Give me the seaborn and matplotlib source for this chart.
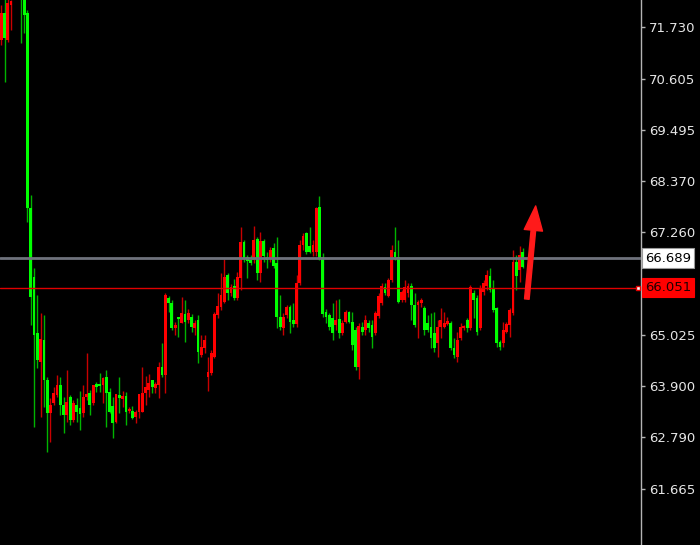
import matplotlib
matplotlib.use("Agg")
import matplotlib.pyplot as plt
import numpy as np
import pandas as pd
import seaborn as sns

# OHLC prices, oldest first (160 bars)
opens = [
    71.45, 72.03, 71.45, 72.21, 72.50, 72.80, 72.70, 72.45, 72.03, 67.79,
    66.28, 65.06, 64.43, 64.91, 64.04, 63.32, 63.54, 63.71, 63.93, 63.49,
    63.28, 63.67, 63.17, 63.49, 63.43, 63.32, 63.67, 63.76, 63.54, 63.95,
    63.93, 63.93, 64.10, 63.78, 63.47, 63.12, 63.71, 63.62, 63.69, 63.36,
    63.36, 63.23, 63.34, 63.34, 63.76, 63.82, 64.04, 63.86, 63.93, 64.32,
    64.15, 65.82, 65.72, 65.17, 65.39, 65.28, 65.48, 65.35, 65.41, 65.17,
    65.35, 64.58, 64.74, 64.10, 64.19, 64.54, 65.45, 65.63, 65.74, 66.33,
    65.93, 66.09, 65.82, 66.26, 67.04, 66.72, 66.65, 66.65, 67.11, 66.37,
    67.07, 66.72, 66.70, 66.91, 66.59, 65.41, 65.17, 65.45, 65.63, 65.35,
    65.26, 66.15, 66.98, 67.24, 66.96, 66.83, 66.83, 67.81, 66.72, 65.52,
    65.45, 65.39, 65.24, 65.37, 65.06, 65.30, 65.52, 65.30, 65.13, 64.32,
    65.19, 65.13, 65.28, 65.24, 65.06, 65.43, 65.72, 66.07, 65.87, 66.22,
    66.83, 66.72, 65.78, 65.78, 65.93, 66.09, 65.67, 65.67, 65.72, 65.61,
    65.28, 65.19, 65.06, 64.85, 65.19, 65.19, 65.26, 65.28, 64.74, 64.54,
    64.96, 65.17, 65.35, 65.17, 65.93, 65.82, 65.17, 65.96, 66.09, 66.30,
    66.04, 65.61, 64.87, 64.85, 65.08, 65.24, 65.50, 66.61, 66.43, 66.83,
]
highs = [
    72.21, 72.40, 72.36, 72.32, 72.90, 73.00, 72.90, 72.60, 72.10, 68.07,
    66.48, 65.89, 65.50, 65.46, 64.10, 63.65, 63.89, 64.15, 64.10, 63.67,
    64.26, 63.71, 63.60, 63.65, 63.80, 63.93, 64.63, 63.82, 63.93, 63.99,
    64.19, 64.10, 64.26, 63.86, 63.67, 63.73, 64.10, 63.80, 63.78, 63.45,
    63.47, 63.38, 63.73, 64.32, 64.13, 64.17, 64.04, 63.99, 64.43, 64.84,
    65.93, 65.87, 65.78, 65.30, 65.41, 65.85, 65.78, 65.59, 65.48, 65.35,
    65.45, 65.02, 65.02, 64.54, 64.69, 65.52, 65.93, 66.37, 66.67, 66.37,
    66.13, 66.24, 66.39, 67.37, 67.09, 66.76, 66.76, 67.39, 67.15, 67.26,
    67.11, 66.83, 66.94, 67.02, 67.15, 65.89, 65.50, 65.67, 65.67, 65.72,
    66.33, 67.09, 67.24, 67.26, 67.37, 67.09, 67.81, 68.05, 66.81, 65.59,
    65.50, 65.72, 65.78, 65.80, 65.35, 65.56, 65.54, 65.52, 65.19, 65.28,
    65.30, 65.45, 65.35, 65.35, 65.54, 65.93, 66.15, 66.15, 66.26, 66.98,
    67.37, 67.09, 66.00, 66.22, 66.15, 66.15, 65.93, 65.78, 65.82, 65.65,
    65.45, 65.50, 65.52, 65.35, 65.61, 65.52, 65.41, 65.32, 64.96, 65.08,
    65.28, 65.24, 65.39, 66.11, 66.00, 65.89, 66.11, 66.22, 66.43, 66.48,
    66.22, 65.63, 64.91, 65.30, 65.30, 65.61, 66.87, 66.76, 66.96, 66.91,
]
lows = [
    71.34, 70.53, 71.40, 71.66, 72.40, 72.45, 71.38, 71.60, 67.48, 65.24,
    63.02, 64.30, 63.23, 63.45, 62.47, 62.69, 63.49, 63.67, 63.28, 62.88,
    63.13, 63.06, 63.13, 63.13, 62.95, 63.23, 63.60, 63.28, 63.49, 63.78,
    63.78, 63.54, 63.02, 63.32, 62.78, 63.10, 63.32, 63.45, 63.06, 63.32,
    63.19, 63.10, 63.21, 63.34, 63.49, 63.67, 63.76, 63.76, 63.65, 64.10,
    63.76, 65.52, 65.13, 65.02, 64.98, 65.28, 64.87, 65.28, 65.08, 65.02,
    64.41, 64.54, 64.63, 63.80, 64.15, 64.52, 65.39, 65.56, 65.72, 65.78,
    65.87, 65.78, 65.78, 66.00, 66.61, 66.26, 66.54, 66.59, 66.22, 66.17,
    66.61, 66.48, 66.61, 66.48, 65.17, 65.13, 65.02, 65.39, 65.06, 65.19,
    65.19, 66.11, 66.87, 66.78, 66.81, 66.74, 66.74, 66.65, 65.41, 65.28,
    65.13, 64.91, 65.13, 64.96, 65.02, 65.28, 65.28, 64.69, 64.26, 64.06,
    65.02, 65.02, 65.08, 64.74, 65.02, 65.39, 65.67, 65.89, 65.85, 66.17,
    66.65, 65.72, 65.74, 65.74, 65.85, 65.35, 65.19, 64.96, 65.63, 65.02,
    65.08, 64.74, 64.65, 64.54, 64.96, 65.17, 65.24, 64.69, 64.52, 64.43,
    64.91, 65.13, 65.08, 65.13, 65.39, 65.02, 65.13, 65.89, 66.00, 65.96,
    65.52, 64.76, 64.69, 64.76, 65.06, 64.98, 65.45, 66.00, 66.17, 66.48,
]
closes = [
    72.03, 71.49, 72.25, 72.30, 72.80, 72.60, 72.40, 71.99, 67.79, 65.85,
    65.02, 64.47, 64.93, 64.04, 63.32, 63.49, 63.76, 63.93, 63.49, 63.28,
    63.56, 63.17, 63.54, 63.34, 63.30, 63.67, 63.73, 63.49, 63.93, 63.89,
    63.91, 64.08, 63.76, 63.34, 63.10, 63.73, 63.65, 63.69, 63.34, 63.41,
    63.21, 63.34, 63.73, 63.76, 63.89, 63.97, 63.89, 63.95, 64.32, 64.15,
    65.89, 65.72, 65.17, 65.24, 65.37, 65.50, 65.30, 65.50, 65.19, 65.28,
    64.65, 64.76, 64.91, 64.21, 64.63, 65.48, 65.65, 65.89, 66.28, 65.93,
    66.07, 65.82, 66.28, 67.04, 66.70, 66.63, 66.59, 67.09, 66.37, 67.07,
    66.74, 66.65, 66.87, 66.52, 65.41, 65.19, 65.41, 65.63, 65.30, 65.26,
    66.15, 66.98, 67.18, 66.83, 66.83, 66.98, 67.79, 66.70, 65.48, 65.41,
    65.19, 65.06, 65.35, 65.06, 65.28, 65.52, 65.30, 64.80, 64.32, 65.22,
    65.08, 65.35, 65.17, 64.98, 65.50, 65.87, 66.09, 65.93, 66.22, 66.87,
    66.72, 65.74, 65.96, 66.07, 66.09, 65.67, 65.24, 65.74, 65.78, 65.13,
    65.13, 64.96, 64.74, 65.19, 65.35, 65.28, 65.32, 64.74, 64.58, 64.91,
    65.19, 65.22, 65.17, 66.07, 65.78, 65.08, 66.04, 66.15, 66.33, 66.00,
    65.56, 64.85, 64.76, 65.13, 65.26, 65.56, 66.61, 66.30, 66.76, 66.50,
]

price_ticks = [71.730, 70.605, 69.495, 68.370, 67.260, 66.135, 65.025, 63.900, 62.790, 61.665]
bid_level = 66.689
support_level = 66.051
# hand-drawn arrow: (bar, price) of tail and head
arrow_tail = (160.2, 65.80)
arrow_head = (162.9, 67.83)

BULL = "#ff0000"
BEAR = "#00ff00"
BULL_WICK = "#c80000"
BEAR_WICK = "#00b400"

sns.set_style("dark", rc={
    "axes.facecolor": "black",
    "figure.facecolor": "black",
    "axes.edgecolor": "#b4b4b4",
    "grid.color": "black",
})
plt.rcParams["font.family"] = ["DejaVu Sans"]

frame = pd.DataFrame({"open": opens, "high": highs, "low": lows, "close": closes})
frame["bar"] = np.arange(len(frame))
frame["up"] = frame["close"] >= frame["open"]

fig = plt.figure(figsize=(7.0, 5.45), dpi=100)
ax = fig.add_axes([0, 0, 641 / 700, 1])

wick_colors = np.where(frame["up"], BULL_WICK, BEAR_WICK)
body_colors = np.where(frame["up"], BULL, BEAR)
ax.vlines(frame["bar"], frame["low"], frame["high"], colors=wick_colors, linewidth=1.0, zorder=2)
body_bottom = frame[["open", "close"]].min(axis=1)
body_height = (frame["close"] - frame["open"]).abs().clip(lower=0.03)
ax.bar(frame["bar"], body_height, bottom=body_bottom, width=0.85,
       color=body_colors, linewidth=0, zorder=3)

# horizontal levels
ax.axhline(bid_level, color="#6e727c", linewidth=2.0, zorder=4)
ax.axhline(support_level, color="#e00000", linewidth=1.0, zorder=4)
ax.plot([0.995], [support_level], transform=ax.get_yaxis_transform(), marker="s",
        markersize=3.5, markerfacecolor="white", markeredgecolor="#e00000",
        clip_on=False, zorder=6)

ax.annotate("", xy=arrow_head, xytext=arrow_tail,
            arrowprops=dict(arrowstyle="simple,head_length=1.6,head_width=1.2,tail_width=0.3",
                            color="#ff1a1a", mutation_scale=11, shrinkA=0, shrinkB=0),
            zorder=7)

ax.set_xlim(-0.38, 195.0)
ax.set_ylim(60.44, 72.318)

ax.yaxis.tick_right()
ax.set_yticks(price_ticks)
ax.set_yticklabels([f"{v:.3f}" for v in price_ticks])
ax.tick_params(axis="y", which="major", direction="out", length=3, width=1,
               color="#b4b4b4", labelcolor="#e6e6e6", labelsize=9.5, pad=3)
ax.tick_params(axis="x", bottom=False, labelbottom=False)
ax.grid(False)
for side in ["left", "top", "bottom"]:
    ax.spines[side].set_visible(False)
ax.spines["right"].set_color("#b4b4b4")
ax.spines["right"].set_linewidth(1.0)

label_tf = ax.get_yaxis_transform()
ax.text(1.006, bid_level, f"{bid_level:.3f}", transform=label_tf, ha="left", va="center",
        fontsize=9.5, color="black", clip_on=False, zorder=10,
        bbox=dict(boxstyle="square,pad=0.25", facecolor="white", edgecolor="#9a9a9a", linewidth=0.8))
ax.text(1.006, support_level, f"{support_level:.3f}", transform=label_tf, ha="left", va="center",
        fontsize=9.5, color="#200000", clip_on=False, zorder=10,
        bbox=dict(boxstyle="square,pad=0.25", facecolor="#ff0000", edgecolor="#ff0000", linewidth=0.8))

fig.savefig("out.png", dpi=100, facecolor="black")
plt.close(fig)
